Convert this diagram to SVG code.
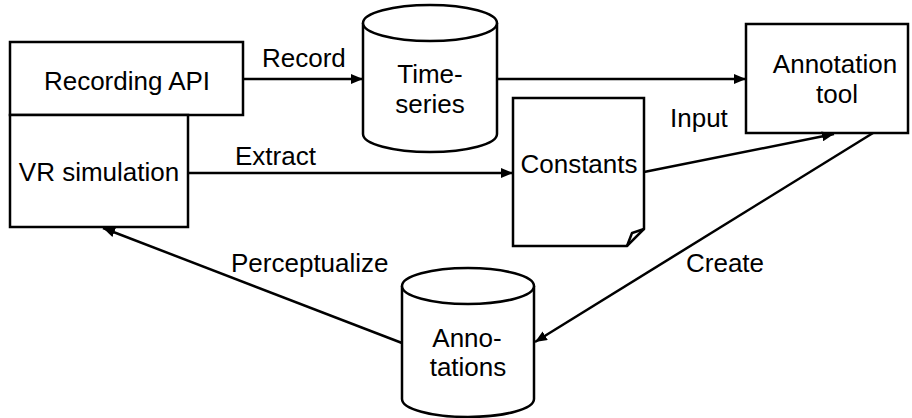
<svg xmlns="http://www.w3.org/2000/svg" width="912" height="418" viewBox="0 0 912 418">
<style>
.s{fill:#fff;stroke:#000;stroke-width:2.5}
.c{fill:none;stroke:#000;stroke-width:2.5}
text{font-family:"Liberation Sans",Arial,sans-serif;font-size:26px;fill:#000}
.m{text-anchor:middle}
</style>
<defs>
<marker id="a" viewBox="0 0 12 10" refX="12" refY="5" markerWidth="12" markerHeight="10" markerUnits="userSpaceOnUse" orient="auto">
<path d="M0,0 L12,5 L0,10 Z" fill="#000"/>
</marker>
</defs>
<rect width="912" height="418" fill="#fff"/>
<g id="recording-api">
<rect class="s" x="10" y="42" width="233" height="73"/>
<text class="m" x="127" y="90">Recording API</text>
</g>
<g id="vr-simulation">
<rect class="s" x="10" y="115" width="178" height="112"/>
<text class="m" x="99" y="181">VR simulation</text>
</g>
<g id="time-series">
<path class="s" d="M363,23 V134 A67,18 0 0 0 497,134 V23"/>
<ellipse class="s" cx="430" cy="23" rx="67" ry="18"/>
<text class="m" x="430" y="83">Time-</text>
<text class="m" x="430" y="113">series</text>
</g>
<g id="annotation-tool">
<rect class="s" x="746" y="24" width="162" height="109"/>
<text class="m" x="835" y="73">Annotation</text>
<text class="m" x="837" y="103">tool</text>
</g>
<g id="constants">
<path class="s" d="M513,98 H644 V229 L627,246 H513 Z"/>
<path class="c" d="M627,246 L632,233 L644,229" stroke-width="2"/>
<text class="m" x="579" y="173">Constants</text>
</g>
<g id="annotations">
<path class="s" d="M402,286 V399 A66,18 0 0 0 534,399 V286"/>
<ellipse class="s" cx="468" cy="286" rx="66" ry="18"/>
<text class="m" x="467" y="347">Anno-</text>
<text class="m" x="468" y="376">tations</text>
</g>
<g id="connectors">
<line class="c" x1="243" y1="79" x2="363" y2="79" marker-end="url(#a)"/>
<text x="262" y="67">Record</text>
<line class="c" x1="497" y1="79" x2="746" y2="79" marker-end="url(#a)"/>
<line class="c" x1="188" y1="173" x2="513" y2="173" marker-end="url(#a)"/>
<text x="235" y="165">Extract</text>
<line class="c" x1="644" y1="172" x2="834" y2="134" marker-end="url(#a)"/>
<text x="670" y="127">Input</text>
<line class="c" x1="873" y1="133" x2="535" y2="342" marker-end="url(#a)"/>
<text x="686" y="272">Create</text>
<line class="c" x1="402" y1="343" x2="103" y2="228" marker-end="url(#a)"/>
<text x="231" y="272">Perceptualize</text>
</g>
</svg>
